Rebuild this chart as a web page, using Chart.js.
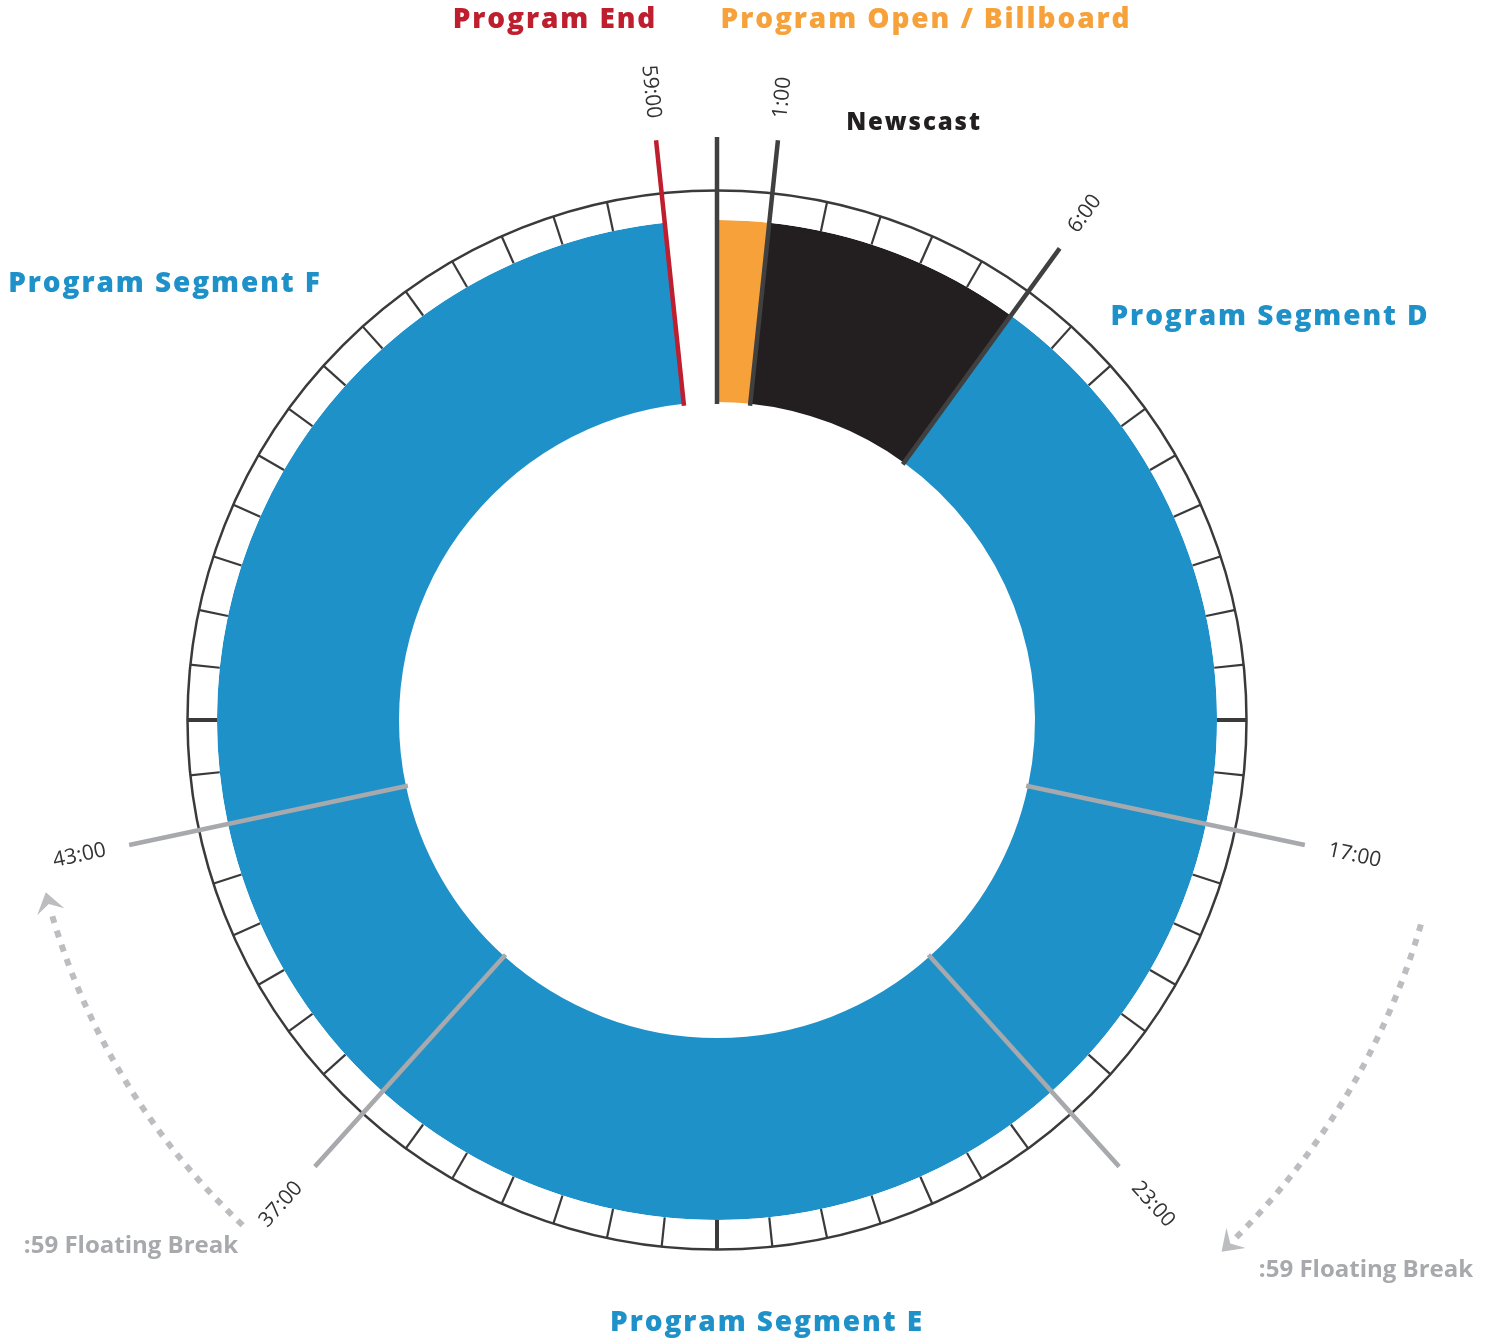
<!DOCTYPE html>
<html>
<head>
<meta charset="utf-8">
<script src="https://cdn.jsdelivr.net/npm/chart.js@4.4.1/dist/chart.umd.min.js"></script>
<style>
  html, body { margin: 0; padding: 0; background: #fff; }
  canvas { display: block; }
</style>
</head>
<body>
<canvas id="clock" width="1493" height="1339"></canvas>
<script>
// schedule (minutes of the hour)
const segNames = ['Program Open / Billboard', 'Newscast', 'Program Segment D', 'Program Segment D', 'Program Segment E', 'Program Segment F', 'Program Segment F', 'Program End'];
const segMinutes = [1, 5, 11, 6, 14, 6, 16, 1];
const segColors = ['#f6a13a', '#231f20', '#1f91c9', '#1f91c9', '#1f91c9', '#1f91c9', '#1f91c9', 'rgba(0,0,0,0)'];

// outer ring, one cell per minute
const minuteCells = [
  1, 1, 1, 1, 1, 1, 1, 1, 1, 1, 1, 1, 1, 1, 1, 1, 1, 1, 1, 1,
  1, 1, 1, 1, 1, 1, 1, 1, 1, 1, 1, 1, 1, 1, 1, 1, 1, 1, 1, 1,
  1, 1, 1, 1, 1, 1, 1, 1, 1, 1, 1, 1, 1, 1, 1, 1, 1, 1, 1, 1,
];

// marker lines
const markMinutes = [0, 1, 6, 59];
const markLabels = ['', '1:00', '6:00', '59:00'];
const markColors = ['#404040', '#404040', '#404040', '#be1e2d'];
const breakMinutes = [17, 23, 37, 43];
const breakLabels = ['17:00', '23:00', '37:00', '43:00'];

// floating break arcs: [from, to] minute
const floatRanges = [[17.7, 22.75], [37.2, 42.6]];

const BLUE = '#1f91c9';

function minuteAngle(m) {
  return -Math.PI / 2 + (m * Math.PI * 2) / 60;
}

const clockPlugin = {
  id: 'clockMarks',
  afterDatasetsDraw(chart) {
    const { ctx } = chart;
    const ring = chart.getDatasetMeta(0).data;
    const sched = chart.getDatasetMeta(1).data;
    const cx = sched[0].x;
    const cy = sched[0].y;
    const inner = sched[0].innerRadius;
    const outer = ring[0].outerRadius;

    // ring ticks + outer circle
    ctx.save();
    ctx.strokeStyle = '#3a3a3a';
    ring.forEach((el, i) => {
      const a = el.startAngle;
      ctx.lineWidth = i % 15 === 0 ? 4 : 2.2;
      ctx.beginPath();
      ctx.moveTo(cx + Math.cos(a) * el.innerRadius, cy + Math.sin(a) * el.innerRadius);
      ctx.lineTo(cx + Math.cos(a) * el.outerRadius, cy + Math.sin(a) * el.outerRadius);
      ctx.stroke();
    });
    ctx.lineWidth = 2.5;
    ctx.beginPath();
    ctx.arc(cx, cy, outer - 0.5, 0, Math.PI * 2);
    ctx.stroke();
    ctx.restore();

    const drawLine = (m, color, width, end) => {
      const a = minuteAngle(m);
      ctx.save();
      ctx.strokeStyle = color;
      ctx.lineWidth = width;
      ctx.beginPath();
      ctx.moveTo(cx + Math.cos(a) * (inner - 2), cy + Math.sin(a) * (inner - 2));
      ctx.lineTo(cx + Math.cos(a) * end, cy + Math.sin(a) * end);
      ctx.stroke();
      ctx.restore();
    };

    const drawLabel = (m, text, r, gap) => {
      if (!text) return;
      const a = minuteAngle(m);
      ctx.save();
      ctx.font = '21px "Open Sans"';
      ctx.fillStyle = '#333';
      ctx.textAlign = 'center';
      ctx.textBaseline = 'middle';
      const w = ctx.measureText(text).width;
      const rr = r + gap + w / 2;
      ctx.translate(cx + Math.cos(a) * rr, cy + Math.sin(a) * rr);
      ctx.rotate(Math.cos(a) >= -0.001 ? a : a + Math.PI);
      ctx.fillText(text, 0, 0);
      ctx.restore();
    };

    breakMinutes.forEach((m, i) => {
      drawLine(m, '#a7a9ac', 4.5, outer + 71);
      drawLabel(m, breakLabels[i], outer + 71, 24);
    });
    markMinutes.forEach((m, i) => {
      drawLine(m, markColors[i], 4.5, outer + 53);
      drawLabel(m, markLabels[i], outer + 53, 22);
    });

    // floating break dashed arcs with arrow heads
    floatRanges.forEach(([m0, m1], i) => {
      const r = i === 0 ? outer + 203 : outer + 163;
      const a0 = minuteAngle(m0);
      const a1 = minuteAngle(m1);
      const head = 20;
      ctx.save();
      ctx.strokeStyle = '#bcbdc0';
      ctx.fillStyle = '#bcbdc0';
      ctx.lineWidth = 6;
      ctx.setLineDash([7, 8]);
      ctx.beginPath();
      ctx.arc(cx, cy, r, a0, a1 - head / r);
      ctx.stroke();
      ctx.setLineDash([]);
      const tx = cx + Math.cos(a1) * r;
      const ty = cy + Math.sin(a1) * r;
      const dx = -Math.sin(a1);
      const dy = Math.cos(a1);
      const nx = -dy;
      const ny = dx;
      ctx.beginPath();
      ctx.moveTo(tx, ty);
      ctx.lineTo(tx - dx * head + nx * 14, ty - dy * head + ny * 14);
      ctx.lineTo(tx - dx * head * 0.6, ty - dy * head * 0.6);
      ctx.lineTo(tx - dx * head - nx * 14, ty - dy * head - ny * 14);
      ctx.closePath();
      ctx.fill();
      ctx.restore();
    });

    // titles
    const texts = [
      ['Program End', '#be1e2d', 555, 20, 28],
      ['Program Open / Billboard', '#f6a13a', 926, 20, 28],
      ['Newscast', '#231f20', 914, 123, 24],
      [segNames[2], BLUE, 1270, 317, 28],
      [segNames[5], BLUE, 165, 284, 28],
      [segNames[4], BLUE, 767, 1323, 28],
    ];
    ctx.save();
    ctx.textAlign = 'center';
    ctx.textBaseline = 'middle';
    texts.forEach(([t, c, x, y, s]) => {
      ctx.font = '800 ' + s + 'px "Open Sans"';
      ctx.letterSpacing = '1.9px';
      ctx.fillStyle = c;
      ctx.fillText(t, x, y);
    });
    ctx.font = '700 24px "Open Sans"';
    ctx.letterSpacing = '0px';
    ctx.fillStyle = '#a7a9ac';
    ctx.fillText(':59 Floating Break', 131, 1246);
    ctx.fillText(':59 Floating Break', 1366, 1270);
    ctx.restore();
  },
};

new Chart(document.getElementById('clock'), {
  type: 'doughnut',
  data: {
    labels: minuteCells.map((_, i) => i + ':00'),
    datasets: [
      {
        label: 'Minutes',
        data: minuteCells,
        backgroundColor: '#ffffff',
        borderWidth: 0,
        weight: 30,
      },
      {
        label: 'Schedule',
        data: segMinutes,
        backgroundColor: segColors,
        borderWidth: 0,
        weight: 182,
      },
    ],
  },
  options: {
    responsive: false,
    animation: false,
    cutout: '60%',
    radius: 530,
    layout: { padding: { left: 0, right: 59, top: 101, bottom: 0 } },
    plugins: {
      legend: { display: false },
      tooltip: { enabled: false },
    },
  },
  plugins: [clockPlugin],
});
</script>
</body>
</html>
